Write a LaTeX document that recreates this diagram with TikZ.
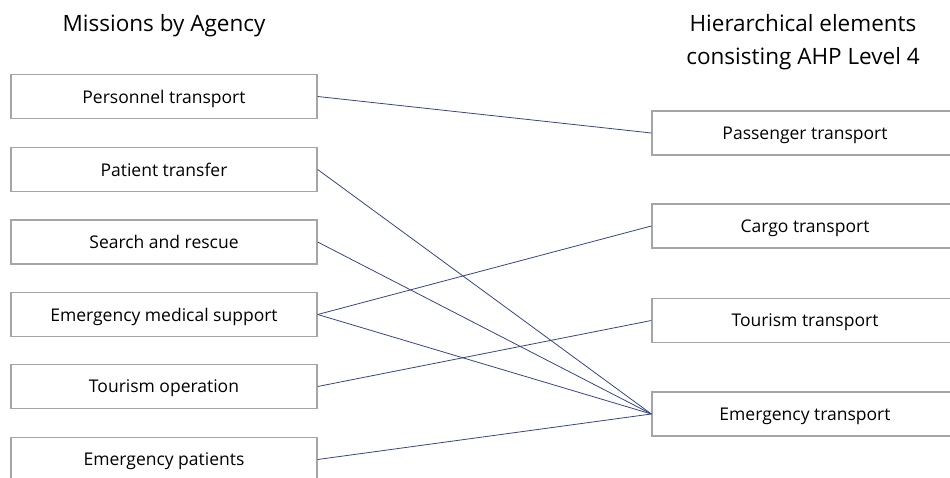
\documentclass[tikz,border=0pt]{standalone}
\usepackage{fontspec}
\setmainfont{Open Sans}
\definecolor{linkc}{RGB}{52,70,135}
\definecolor{boxc}{RGB}{165,165,165}
\begin{document}
\begin{tikzpicture}[x=1pt,y=-1pt,
  box/.style={draw=boxc,line width=1.3pt,fill=white,minimum width=306pt,minimum height=44pt,inner sep=0pt,text depth=0pt,font=\fontsize{17.5}{20}\selectfont},
  title/.style={font=\fontsize{22.5}{33}\selectfont,align=center},
  link/.style={draw=linkc,line width=0.8pt}]
\useasboundingbox (0,0) rectangle (950,478);
\node[title] (tl) at (164,26) {Missions by Agency};
\node[title] (tr) at (803,42) {Hierarchical elements\\consisting AHP Level 4};
\node[box] (l1) at (164,96.5) {Personnel transport};
\node[box] (l2) at (164,169.5) {Patient transfer};
\node[box] (l3) at (164,242) {Search and rescue};
\node[box] (l4) at (164,314.5) {Emergency medical support};
\node[box] (l5) at (164,386.5) {Tourism operation};
\node[box] (l6) at (164,459.5) {Emergency patients};
\node[box] (r1) at (805,133) {Passenger transport};
\node[box] (r2) at (805,226) {Cargo transport};
\node[box] (r3) at (805,320.5) {Tourism transport};
\node[box] (r4) at (805,414) {Emergency transport};
\draw[link] (l1.east) -- (r1.west);
\draw[link] (l2.east) -- (r4.west);
\draw[link] (l3.east) -- (r4.west);
\draw[link] (l4.east) -- (r2.west);
\draw[link] (l4.east) -- (r4.west);
\draw[link] (l5.east) -- (r3.west);
\draw[link] (l6.east) -- (r4.west);
\end{tikzpicture}
\end{document}
